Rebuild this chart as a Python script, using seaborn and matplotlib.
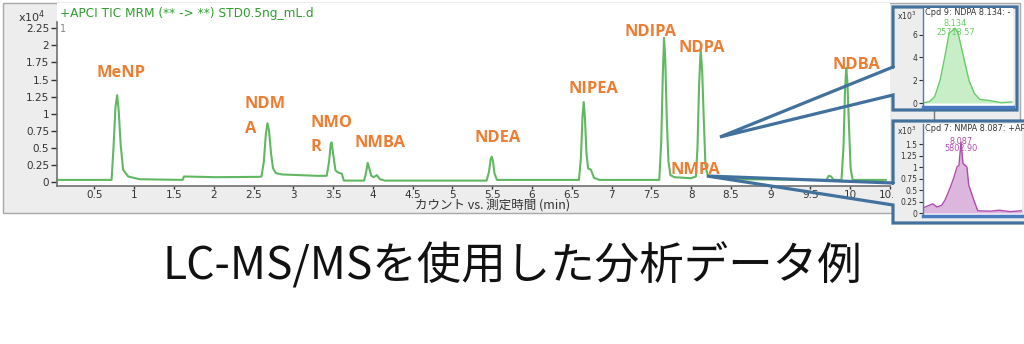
import matplotlib
matplotlib.use("Agg")
import matplotlib.pyplot as plt
import numpy as np
import pandas as pd
import seaborn as sns
from matplotlib.patches import Rectangle
from matplotlib.lines import Line2D

# ---------------- data ----------------
# Main TIC chromatogram: retention time (min) and counts (x10^4)
main_time = [0.03, 0.716,
             0.74, 0.765, 0.786, 0.805, 0.83, 0.861, 0.924, 1.07, 1.61,
             1.625, 2.03, 2.57,
             2.60, 2.63, 2.655, 2.675, 2.695, 2.72, 2.745, 2.78, 2.86, 3.30,
             3.42, 3.45, 3.47, 3.48, 3.50, 3.53, 3.56, 3.61, 3.635, 3.87,
             3.89, 3.915, 3.935, 3.955, 3.98, 4.01, 4.05, 4.09, 4.15, 5.43,
             5.46, 5.48, 5.495, 5.51, 5.53, 5.56, 6.59,
             6.615, 6.635, 6.65, 6.665, 6.685, 6.705, 6.74, 6.78, 6.85, 7.60,
             7.625, 7.645, 7.66, 7.675, 7.695, 7.715, 7.74, 7.79, 8.00, 8.06,
             8.08, 8.10, 8.12, 8.14, 8.16, 8.18, 8.21, 8.50, 9.66,
             9.70, 9.73, 9.76, 9.79, 9.89,
             9.915, 9.935, 9.95, 9.965, 9.985, 10.005, 10.03, 10.45]
main_counts = [0.03, 0.03,
               0.5, 1.1, 1.27, 1.05, 0.55, 0.18, 0.08, 0.04, 0.03,
               0.08, 0.07, 0.075,
               0.08, 0.3, 0.7, 0.86, 0.75, 0.42, 0.2, 0.13, 0.11, 0.09,
               0.09, 0.3, 0.55, 0.58, 0.42, 0.17, 0.14, 0.12, 0.02, 0.02,
               0.02, 0.14, 0.28, 0.2, 0.09, 0.07, 0.10, 0.04, 0.02, 0.02,
               0.15, 0.33, 0.37, 0.30, 0.12, 0.03, 0.03,
               0.35, 0.95, 1.17, 0.95, 0.42, 0.2, 0.18, 0.06, 0.03, 0.03,
               0.6, 1.6, 2.11, 1.8, 0.9, 0.3, 0.1, 0.07, 0.055, 0.08,
               0.5, 1.4, 1.94, 1.6, 0.9, 0.25, 0.08, 0.04, 0.03,
               0.03, 0.09, 0.08, 0.03, 0.03,
               0.5, 1.35, 1.67, 1.45, 0.8, 0.2, 0.03, 0.03]

compound_labels = ["MeNP", "NDM\nA", "NMO\nR", "NMBA", "NDEA", "NIPEA",
                   "NDIPA", "NDPA", "NMPA", "NDBA"]

main_xticks = [0.5, 1, 1.5, 2, 2.5, 3, 3.5, 4, 4.5, 5, 5.5, 6, 6.5, 7, 7.5,
               8, 8.5, 9, 9.5, 10, 10.5]
main_yticks = [0, 0.25, 0.5, 0.75, 1, 1.25, 1.5, 1.75, 2, 2.25]

# Inset 1: NDPA extracted peak (counts x10^3)
ndpa_time = [7.96, 7.99, 8.02, 8.05, 8.08, 8.10, 8.134, 8.15, 8.18, 8.21,
             8.24, 8.27, 8.33, 8.39, 8.45]
ndpa_counts = [0.03, 0.11, 0.55, 2.0, 4.36, 6.1, 6.55, 6.1, 4.06, 2.0,
               0.85, 0.32, 0.2, 0.03, 0.09]
ndpa_yticks = [0, 2, 4, 6]

# Inset 2: NMPA extracted peak (counts x10^3)
nmpa_time = [7.876, 7.93, 7.954, 7.98, 7.998, 8.026, 8.048, 8.065, 8.076,
             8.087, 8.098, 8.12, 8.13, 8.154, 8.18, 8.25, 8.30, 8.36, 8.426]
nmpa_counts = [0.11, 0.20, 0.13, 0.17, 0.28, 0.54, 0.78, 1.0, 1.04,
               1.54, 1.08, 1.0, 0.61, 0.33, 0.05, 0.04, 0.06, 0.03, 0.05]
nmpa_yticks = [0, 0.25, 0.5, 0.75, 1, 1.25, 1.5]

caption = "LC-MS/MSを使用した分析データ例"
main_title = "+APCI TIC MRM (** -> **) STD0.5ng_mL.d"
xlabel = "カウント vs. 測定時間 (min)"
ndpa_title = "Cpd 9: NDPA 8.134: -"
nmpa_title = "Cpd 7: NMPA 8.087: +AP"
ndpa_peak_text = ["8.134", "25718.57"]
nmpa_peak_text = ["8.087", "5802.90"]

# ---------------- style ----------------
sns.set_theme(style="white")
plt.rcParams["font.family"] = ["DejaVu Sans", "Noto Sans CJK JP"]

W, H = 1024, 344
fig = plt.figure(figsize=(W / 100, H / 100), dpi=100, facecolor="white")


def box(x0, y0, x1, y1):
    return [x0 / W, 1 - y1 / H, (x1 - x0) / W, (y1 - y0) / H]


def fmt(v):
    return ("%g" % v)


GREEN = "#62b862"
ORANGE = "#ED7D31"
BLUE = "#41719C"
TICKC = "#333333"

# background window
bg = fig.add_axes([0, 0, 1, 1], zorder=0)
bg.set_xlim(0, W); bg.set_ylim(H, 0); bg.axis("off")
bg.add_patch(Rectangle((2.5, 2.5), 1017, 210, facecolor="#EDEDED",
                       edgecolor="#A8A8A8", lw=1))
bg.text(512, 266, caption, ha="center", va="center", fontsize=32,
        color="#111111", family=["Noto Sans CJK JP", "DejaVu Sans"])
bg.text(18, 17, r"x10$^{4}$", ha="left", va="center", fontsize=8, color=TICKC)

# main chromatogram
ax = fig.add_axes(box(57, 3, 890, 186), zorder=1)
ax.set_facecolor("white")
df = pd.DataFrame({"time": main_time, "counts": main_counts})
sns.lineplot(data=df, x="time", y="counts", ax=ax, color=GREEN, lw=1.5,
             sort=False)
ax.set_xlim(0.03, 10.45)
ax.set_ylim(-0.059, 2.62)
for s in ["top", "right"]:
    ax.spines[s].set_visible(False)
ax.spines["left"].set_bounds(-0.059, 2.34)
for s in ["left", "bottom"]:
    ax.spines[s].set_color("#707070")
    ax.spines[s].set_linewidth(1.2)
ax.set_xticks(main_xticks)
ax.set_xticklabels([fmt(v) for v in main_xticks])
ax.set_yticks(main_yticks)
ax.set_yticklabels([fmt(v) for v in main_yticks])
ax.tick_params(axis="y", direction="out", length=4, width=1,
               colors=TICKC, labelsize=7.5, pad=1.5, left=True)
ax.tick_params(axis="x", direction="out", length=2.5, width=1,
               colors=TICKC, labelsize=7.5, pad=0.3, bottom=True)
ax.set_ylabel("")
ax.set_xlabel(xlabel, fontsize=9, color=TICKC,
              family=["Noto Sans CJK JP", "DejaVu Sans"], va="center")
ax.xaxis.set_label_coords((493 - 57) / 833, (186 - 205) / 183)
ax.text(0.004, (186 - 29) / 183, "1", transform=ax.transAxes, fontsize=7,
        color="#888888", va="center", ha="left")

# overlay: title, labels, callouts
ov = fig.add_axes([0, 0, 1, 1], zorder=2)
ov.set_xlim(0, W); ov.set_ylim(H, 0); ov.axis("off")
ov.patch.set_alpha(0)
ov.text(60, 14, main_title, ha="left", va="center", fontsize=8.7,
        color="#2f9e2f")

label_pos = [(97, 76.7), (245, 108.3), (310, 126.7), (354, 146.7),
             (474, 141.7), (568, 93.3), (625, 35.7), (679, 51.7),
             (670, 174), (832, 69.3)]
for name, (x, y) in zip(compound_labels, label_pos):
    lines = name.split("\n")
    for i, ln in enumerate(lines):
        ov.text(x, y + 24.5 * i, ln, ha="left", va="baseline", fontsize=11.8,
                fontweight="bold", color=ORANGE, family="Open Sans")

# inset box interiors
ov.add_patch(Rectangle((893, 7), 124, 103, facecolor="#EDEDED", lw=0))
ov.add_patch(Rectangle((893, 121), 140, 102, facecolor="#EDEDED", lw=0))
ov.add_line(Line2D([934, 934], [110, 121], color="#777777", lw=1))

# callout outlines
top_call = [(893, 67), (893, 7), (1017, 7), (1017, 110), (893, 110),
            (893, 95), (720, 137), (893, 67)]
bot_call = [(893, 183), (893, 121), (1030, 121), (1030, 223), (893, 223),
            (893, 205), (707, 176), (893, 183)]
for pts in (top_call, bot_call):
    xs, ys = zip(*pts)
    ov.add_line(Line2D(xs, ys, color=BLUE, lw=2.3, solid_joinstyle="miter"))

ov.text(897, 16, r"x10$^{3}$", ha="left", va="center", fontsize=5.5,
        color=TICKC)
ov.text(897, 131, r"x10$^{3}$", ha="left", va="center", fontsize=5.5,
        color=TICKC)


def inset(rect, t, c, xlim, ylim, yticks, line_c, fill_c, title, ptxt, pty):
    ia = fig.add_axes(rect, zorder=3)
    ia.set_facecolor("white")
    d = pd.DataFrame({"t": t, "c": c})
    sns.lineplot(data=d, x="t", y="c", ax=ia, color=line_c, lw=1, sort=False)
    ia.fill_between(t, 0, c, color=fill_c, lw=0)
    ia.set_xlim(*xlim); ia.set_ylim(*ylim)
    ia.set_xticks([]); ia.set_yticks(yticks)
    ia.set_yticklabels([fmt(v) for v in yticks])
    ia.tick_params(axis="y", direction="out", length=3, width=0.8,
                   colors=TICKC, labelsize=5.5, pad=1, left=True)
    ia.set_xlabel(""); ia.set_ylabel("")
    for s in ["top", "right"]:
        ia.spines[s].set_visible(False)
    ia.spines["left"].set_color("#4a7bc0"); ia.spines["left"].set_linewidth(1)
    ia.spines["bottom"].set_color("#4a7bc0")
    ia.spines["bottom"].set_linewidth(2.5)
    ia.text(0.02, 0.955, title, transform=ia.transAxes, fontsize=5.9,
            color=TICKC, va="center", ha="left")
    px = t[int(np.argmax(c))]
    ia.text(px, pty[0], ptxt[0], ha="center", va="center", fontsize=5.9,
            color=line_c)
    ia.text(px, pty[1], ptxt[1], ha="center", va="center", fontsize=5.9,
            color=line_c)
    return ia


inset(box(923, 8, 1013, 107), ndpa_time, ndpa_counts, (7.955, 8.455),
      (-0.35, 8.33), ndpa_yticks, "#66cc66", "#c8eec8", ndpa_title,
      ndpa_peak_text, (7.0, 6.2))
inset(box(923, 124, 1022, 216), nmpa_time, nmpa_counts, (7.876, 8.426),
      (-0.065, 1.935), nmpa_yticks, "#b04cb0", "#dcb6dc", nmpa_title,
      nmpa_peak_text, (1.565, 1.41))

fig.savefig("out.png", dpi=100, facecolor="white")
